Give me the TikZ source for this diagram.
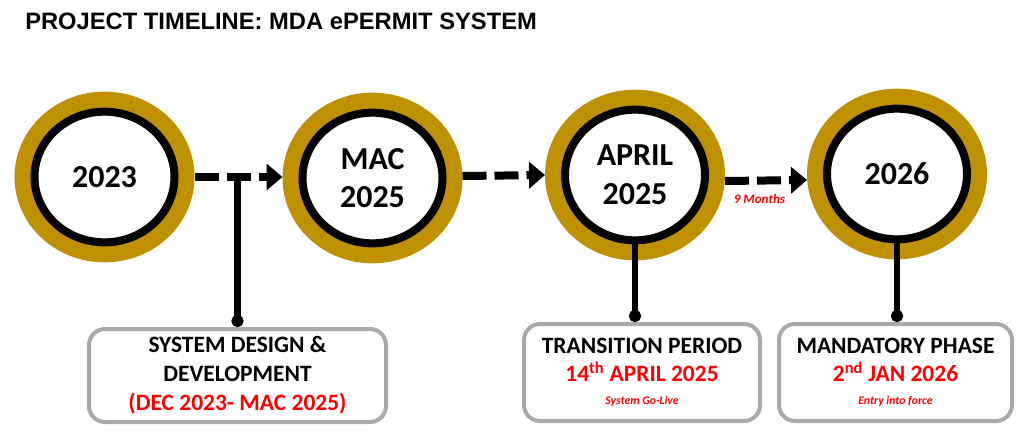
\documentclass[tikz,border=0pt]{standalone}
\usepackage{fontspec}
\setmainfont{Carlito}
\newfontfamily\titlefont{Liberation Sans}
\usetikzlibrary{shapes.geometric,arrows.meta}
\definecolor{ringgold}{RGB}{191,144,0}
\definecolor{boxgray}{RGB}{170,170,170}
\definecolor{datered}{RGB}{255,0,0}

\begin{document}
\begin{tikzpicture}[x=0.75pt,y=-0.75pt]
\useasboundingbox (0,0) rectangle (1027,432);
\node[anchor=west,inner sep=0pt,font=\titlefont\bfseries\fontsize{17.8}{20}\selectfont] (title) at (25,21) {PROJECT TIMELINE: MDA ePERMIT SYSTEM};
\begin{scope}[every node/.style={ellipse,draw=black,line width=6pt,fill=white,
      preaction={draw=ringgold,line width=30pt},
      minimum width=105pt,minimum height=98pt,outer sep=15pt,
      align=center,font=\bfseries\fontsize{24}{29}\selectfont}]
    \node (c1) at (104.5,177) {2023};
    \node (c2) at (372.5,178) {MAC\\2025};
    \node (c3) at (635,175) {APRIL\\2025};
    \node (c4) at (897,174) {2026};
\end{scope}
\begin{scope}[every node/.style={rectangle,rounded corners=12pt,draw=boxgray,
      line width=3pt,fill=white,align=center,minimum height=72.75pt}]
    \node[minimum width=222.75pt,minimum height=69.75pt,
          font=\bfseries\fontsize{17.6}{21.75}\selectfont] (b1) at (237.5,375.5)
        {SYSTEM DESIGN \&\\DEVELOPMENT\\\textcolor{datered}{(DEC 2023- MAC 2025)}};
    \node[minimum width=177pt,font=\bfseries\fontsize{17.6}{21}\selectfont] (b2) at (642,372.5)
        {TRANSITION PERIOD\\\textcolor{datered}{14\textsuperscript{th} APRIL 2025}\\[-4pt]
         \textcolor{datered}{\fontsize{8.8}{17}\selectfont\itshape System Go-Live}};
    \node[minimum width=174.75pt,font=\bfseries\fontsize{17.6}{21}\selectfont] (b3) at (895.5,372.5)
        {MANDATORY PHASE\\\textcolor{datered}{2\textsuperscript{nd} JAN 2026}\\[-4pt]
         \textcolor{datered}{\fontsize{8.8}{17}\selectfont\itshape Entry into force}};
\end{scope}
\begin{scope}[>={Triangle[length=12pt,width=19.5pt]},
              flow/.style={line width=6pt,dash pattern=on 18pt off 6pt}]
    \draw[flow,->] (c1.east) -- (c1.east -| c2.west);
    \draw[flow,->] ([yshift=1.5pt]c2.east) -- (c3.west);
    \draw[flow,->] ([yshift=-4.5pt]c3.east) -- ([yshift=-4.5pt]c4.west)
        node[below=4pt,pos=.42,text=datered,font=\bfseries\itshape\fontsize{9.8}{11}\selectfont]{9 Months};
\end{scope}
\begin{scope}[stemline/.style={line width=5pt,-{Circle[length=9pt]}}]
    \draw[stemline] (b1.north |- c1.east) -- (b1.north);
    \draw[stemline] ([yshift=12pt]c3.south) -- (c3.south |- b2.north);
    \draw[stemline] ([yshift=12pt]c4.south) -- (c4.south |- b3.north);
\end{scope}
\end{tikzpicture}
\end{document}
